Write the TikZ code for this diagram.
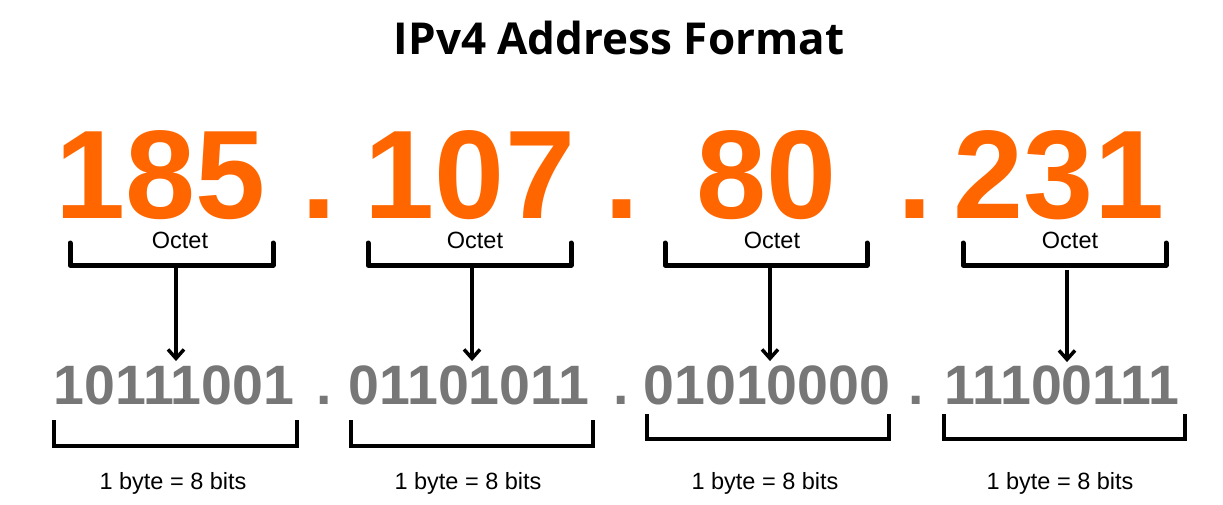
\documentclass[tikz,border=0pt]{standalone}
\usepackage{fontspec}
\setmainfont{Liberation Sans}
\newfontfamily\titlefont{Open Sans}
\usepackage{xcolor}
\usetikzlibrary{arrows.meta,positioning}

\definecolor{ipOrange}{HTML}{FF6600}
\definecolor{ipGray}{HTML}{777777}

\begin{document}
\begin{tikzpicture}[
    x=1pt, y=-1pt,
    title/.style={anchor=base, inner sep=0pt, font=\titlefont\fontsize{44}{44}\selectfont\bfseries},
    dec/.style={anchor=base, inner sep=0pt, text=ipOrange, font=\fontsize{126}{126}\selectfont\bfseries},
    bin/.style={anchor=base, inner sep=0pt, text=ipGray, font=\fontsize{55.5}{55.5}\selectfont\bfseries},
    lbl/.style={anchor=base, inner sep=0pt, font=\fontsize{23.5}{23.5}\selectfont},
    obrace/.style={line width=5pt, line cap=round, line join=round},
    bbrace/.style={line width=3.5pt},
    arrow/.style={-{Straight Barb[length=9pt,width=16pt]}, line width=3.5pt},
]
\useasboundingbox (0,0) rectangle (1223,504);

% Title
\node[title] (title) at (619,54) {IPv4 Address Format};

% Decimal octets
\node[dec] (dec1) at (161,218) {185};
\node[dec] (dot1) at (319,218) {.};
\node[dec] (dec2) at (470,218) {107};
\node[dec] (dot2) at (622,218) {.};
\node[dec] (dec3) at (767,218) {80};
\node[dec] (dot3) at (915,218) {.};
\node[dec] (dec4) at (1059,218) {231};

% Octet labels
\node[lbl] (oct1) at (180,248) {Octet};
\node[lbl] (oct2) at (475,248) {Octet};
\node[lbl] (oct3) at (772,248) {Octet};
\node[lbl] (oct4) at (1070,248) {Octet};

% Upper brackets
\draw[obrace] (70,243) |- (273,265) -- (273,243);
\draw[obrace] (368,243) |- (571,265) -- (571,243);
\draw[obrace] (665,243) |- (867,265) -- (867,243);
\draw[obrace] (963,243) |- (1166,265) -- (1166,243);
\coordinate (top1) at (176,266);
\coordinate (top2) at (472,266);
\coordinate (top3) at (770,266);
\coordinate (top4) at (1067,270);

% Binary octets
\node[bin] (bin1) at (174,404) {10111001};
\node[bin] (bdot1) at (324,404) {.};
\node[bin] (bin2) at (469,404) {01101011};
\node[bin] (bdot2) at (621,404) {.};
\node[bin] (bin3) at (767,404) {01010000};
\node[bin] (bdot3) at (916,404) {.};
\node[bin] (bin4) at (1062,404) {11100111};

% Arrows
\draw[arrow, shorten >=4pt] (top1) -- (top1 |- bin1.north);
\draw[arrow, shorten >=4pt] (top2) -- (top2 |- bin2.north);
\draw[arrow, shorten >=4pt] (top3) -- (top3 |- bin3.north);
\draw[arrow, shorten >=3pt] (top4) -- (top4 |- bin4.north);

% Lower brackets
\draw[bbrace] (54,420) |- (297,446) -- (297,420);
\draw[bbrace] (351,420) |- (593,446) -- (593,420);
\draw[bbrace] (647,414) |- (889,439) -- (889,414);
\draw[bbrace] (944,414) |- (1185,439) -- (1185,414);

% Byte labels
\node[lbl] (byte1) at (173,489) {1 byte = 8 bits};
\node[lbl] (byte2) at (468,489) {1 byte = 8 bits};
\node[lbl] (byte3) at (765,489) {1 byte = 8 bits};
\node[lbl] (byte4) at (1060,489) {1 byte = 8 bits};
\end{tikzpicture}
\end{document}
